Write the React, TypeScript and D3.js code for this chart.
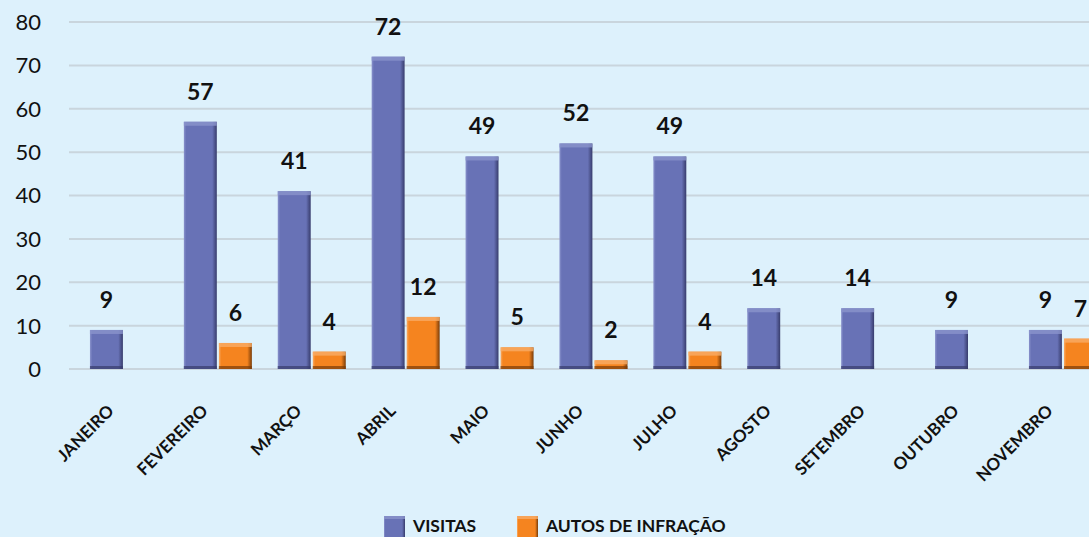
import * as d3 from 'd3'

const months = ['JANEIRO', 'FEVEREIRO', 'MARÇO', 'ABRIL', 'MAIO', 'JUNHO', 'JULHO', 'AGOSTO', 'SETEMBRO', 'OUTUBRO', 'NOVEMBRO']
const visitas = [9, 57, 41, 72, 49, 52, 49, 14, 14, 9, 9]
const autos: (number | null)[] = [null, 6, 4, 12, 5, 2, 4, null, null, null, 7]
const yTicks = [0, 10, 20, 30, 40, 50, 60, 70, 80]

const W = 1089
const H = 537
const FONT = 'Lato, "Open Sans", sans-serif'

const series = [
  { key: 'visitas', name: 'VISITAS', values: visitas, base: '#6872b6', light: '#8a93cc', dark: '#373c6c' },
  { key: 'autos', name: 'AUTOS DE INFRAÇÃO', values: autos, base: '#f5841f', light: '#f9ac66', dark: '#7a3c08' },
]

export default function App() {
  const x = d3.scaleBand<string>().domain(months).range([77, 77 + 93.9 * months.length])
  const inner = d3.scaleBand<string>().domain(series.map(s => s.key)).range([0, 68]).paddingInner(0.06)
  const y = d3.scaleLinear().domain([0, 80]).range([369, 22])
  const groupOffset = (x.bandwidth() - 68) / 2

  return (
    <svg width={W} height={H} style={{ position: 'fixed', left: 0, top: 0, display: 'block' }} fontFamily={FONT}>
      <defs>
        {series.map(s => (
          <linearGradient key={s.key} id={`g-${s.key}`} x1="0" x2="1" y1="0" y2="0">
            <stop offset="0" stopColor={s.light} />
            <stop offset="0.07" stopColor={s.base} />
            <stop offset="0.86" stopColor={s.base} />
            <stop offset="1" stopColor={s.dark} />
          </linearGradient>
        ))}
      </defs>
      <rect width={W} height={H} fill="#ddf1fc" />
      {yTicks.map(t => (
        <g key={t}>
          <line x1={69} x2={W} y1={y(t)} y2={y(t)} stroke="#c9d5dd" strokeWidth={2} />
          <text x={41} y={y(t)} dy="0.36em" textAnchor="end" fontSize={22} fill="#111">{t}</text>
        </g>
      ))}
      {months.map((m, i) => {
        const gx = (x(m) ?? 0) + groupOffset
        return (
          <g key={m}>
            {series.map(s => {
              const v = s.values[i]
              if (v == null) return null
              const bx = gx + (inner(s.key) ?? 0)
              const bw = inner.bandwidth()
              const by = y(v)
              const bh = y(0) - by
              return (
                <g key={s.key}>
                  <rect x={bx} y={by} width={bw} height={bh} fill={`url(#g-${s.key})`} />
                  <rect x={bx} y={by} width={bw} height={4} fill={s.light} opacity={0.8} />
                  <rect x={bx} y={y(0) - 3} width={bw} height={3} fill={s.dark} opacity={0.7} />
                  <text x={bx + bw / 2} y={by - 22} textAnchor="middle" fontSize={23} fontWeight="bold" fill="#111">{v}</text>
                </g>
              )
            })}
            <text
              transform={`translate(${gx + 34 - 9},412) rotate(-45)`}
              textAnchor="end"
              fontSize={17}
              fontWeight="bold"
              fill="#111"
            >{m}</text>
          </g>
        )
      })}
      {series.map((s, i) => {
        const lx = i === 0 ? 384 : 517
        return (
          <g key={s.key}>
            <rect x={lx} y={516} width={21} height={21} fill={`url(#g-${s.key})`} />
            <rect x={lx} y={516} width={21} height={3} fill={s.light} opacity={0.8} />
            <text x={lx + 29} y={532} fontSize={17.5} fontWeight="bold" fill="#111">{s.name}</text>
          </g>
        )
      })}
    </svg>
  )
}
